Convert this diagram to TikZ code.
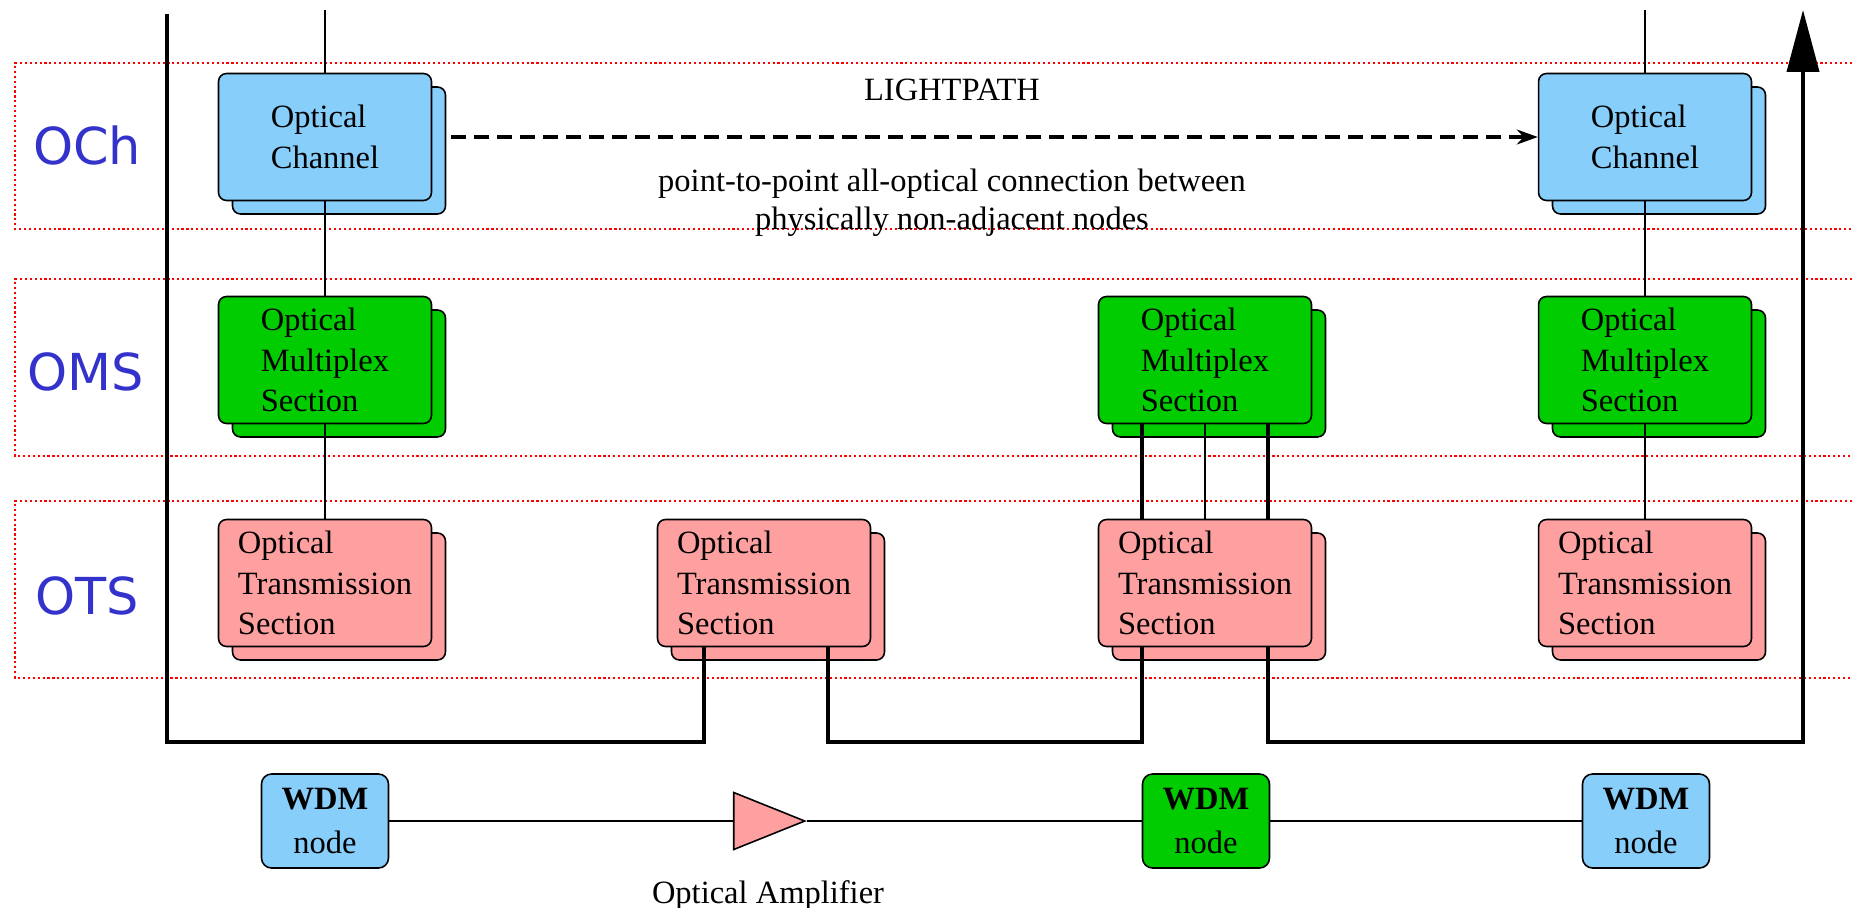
\documentclass[tikz,border=0pt]{standalone}
\usepackage{fontspec}
\setmainfont{Liberation Serif}
\newfontfamily\layerfont{DejaVu Sans}
\usepackage{tikz}
\usetikzlibrary{shapes.geometric,shadows,calc,arrows.meta}
\definecolor{chblue}{RGB}{135,206,250}
\definecolor{msgreen}{RGB}{0,204,0}
\definecolor{tspink}{RGB}{255,160,160}
\definecolor{layerblue}{RGB}{51,51,204}
\tikzset{layerband/.style={
    draw=red,
    line width=1.1pt,
    dash pattern=on 1.2pt off 1.6pt}}
\tikzset{block/.style={
    draw=black, line width=0.9pt,
    rounded corners=0.16cm,
    minimum width=4.26cm, minimum height=2.54cm,
    inner sep=0pt, align=left,
    font=\fontsize{18.5}{23}\selectfont,
    copy shadow={shadow xshift=0.28cm, shadow yshift=-0.27cm}}}
\tikzset{och/.style={block, fill=chblue},
    oms/.style={block, fill=msgreen},
    ots/.style={block, fill=tspink}}
\tikzset{wdm/.style={
    draw=black, line width=0.9pt,
    rounded corners=0.2cm,
    minimum width=2.54cm, minimum height=1.88cm,
    inner sep=0pt, align=center,
    font=\fontsize{18.5}{25}\selectfont}}
\tikzset{link/.style={draw=black, line width=0.9pt},
    bus/.style={draw=black, line width=2.2pt},
    lightpath/.style={draw=black, line width=1.8pt,
        dash pattern=on 0.3cm off 0.16cm,
        -{Stealth[length=0.42cm,width=0.3cm]}},
    layername/.style={text=layerblue, font=\layerfont\fontsize{29}{35}\selectfont},
    plain/.style={font=\fontsize{18.5}{21.5}\selectfont, align=center}}

\begin{document}
\begin{tikzpicture}[x=0.02cm, y=-0.02cm]
	\path[fill=white] (0,0) rectangle (1852,907);
	\useasboundingbox (0,0) rectangle (1852,907);

\coordinate (topL) at (167,14);
\coordinate (top1) at (325,10);
\coordinate (top2) at (1645,10);
\coordinate (topR) at (1803,10);
\coordinate (busL) at (167,742);

\path[layerband] (1852,63) -- (15,63) -- (15,229) -- (1852,229);
\path[layerband] (1852,279) -- (15,279) -- (15,456) -- (1852,456);
\path[layerband] (1852,501) -- (15,501) -- (15,678) -- (1852,678);

\node[layername] (lblch) at (87,145) {OCh};
\node[layername] (lblms) at (86,372) {OMS};
\node[layername] (lblts) at (87,596) {OTS};

\node[och] (och1) at (325,137) {Optical\\Channel};
\node[och] (och2) at (1645,137) {Optical\\Channel};
\node[oms] (oms1) at (325,360) {Optical\\Multiplex\\Section};
\node[oms] (oms2) at (1205,360) {Optical\\Multiplex\\Section};
\node[oms] (oms3) at (1645,360) {Optical\\Multiplex\\Section};
\node[ots] (ots1) at (325,583) {Optical\\Transmission\\Section};
\node[ots] (ots2) at (764,583) {Optical\\Transmission\\Section};
\node[ots] (ots3) at (1205,583) {Optical\\Transmission\\Section};
\node[ots] (ots4) at (1645,583) {Optical\\Transmission\\Section};

\path[link] (top1) -- (och1.north);
\path[link] (och1.south) -- (oms1.north);
\path[link] (oms1.south) -- (ots1.north);
\path[link] (top2) -- (och2.north);
\path[link] (och2.south) -- (oms3.north);
\path[link] (oms3.south) -- (ots4.north);

\path[bus] ($(oms2.south)+(-63,0)$) -- ($(ots3.north)+(-63,0)$);
\path[link] (oms2.south) -- (ots3.north);
\path[bus] ($(oms2.south)+(63,0)$) -- ($(ots3.north)+(63,0)$);

\path[bus] (topL) -- (busL) -| ($(ots2.south)+(-60,0)$);
\path[bus] ($(ots2.south)+(64,0)$) -- ++(0,95) -| ($(ots3.south)+(-63,0)$);
\path[bus,-{Triangle[width=0.64cm,length=1.24cm]}] ($(ots3.south)+(63,0)$) -- ++(0,95) -| (topR);

\path[lightpath, shorten <=0.38cm] (och1.east) -- (och2.west);
\node[plain] (lp) at (952,90) {LIGHTPATH};
\node[plain] (lpnote) at (952,203) {point-to-point all-optical connection between\\physically non-adjacent nodes};

\node[wdm, fill=chblue] (wdm1) at (325,821) {\textbf{WDM}\\node};
\node[draw=black, line width=0.9pt, fill=tspink, isosceles triangle, isosceles triangle stretches,
	minimum width=1.14cm, minimum height=1.42cm, inner sep=0pt] (amp) at (753,821) {};
\node[plain] (amplbl) at (768,895) {Optical Amplifier};
\node[wdm, fill=msgreen] (wdm2) at (1206,821) {\textbf{WDM}\\node};
\node[wdm, fill=chblue] (wdm3) at (1646,821) {\textbf{WDM}\\node};

\path[link] (wdm1.east) -- (amp.west);
\path[link] (amp.east) -- (wdm2.west);
\path[link] (wdm2.east) -- (wdm3.west);

\end{tikzpicture}
\end{document}
